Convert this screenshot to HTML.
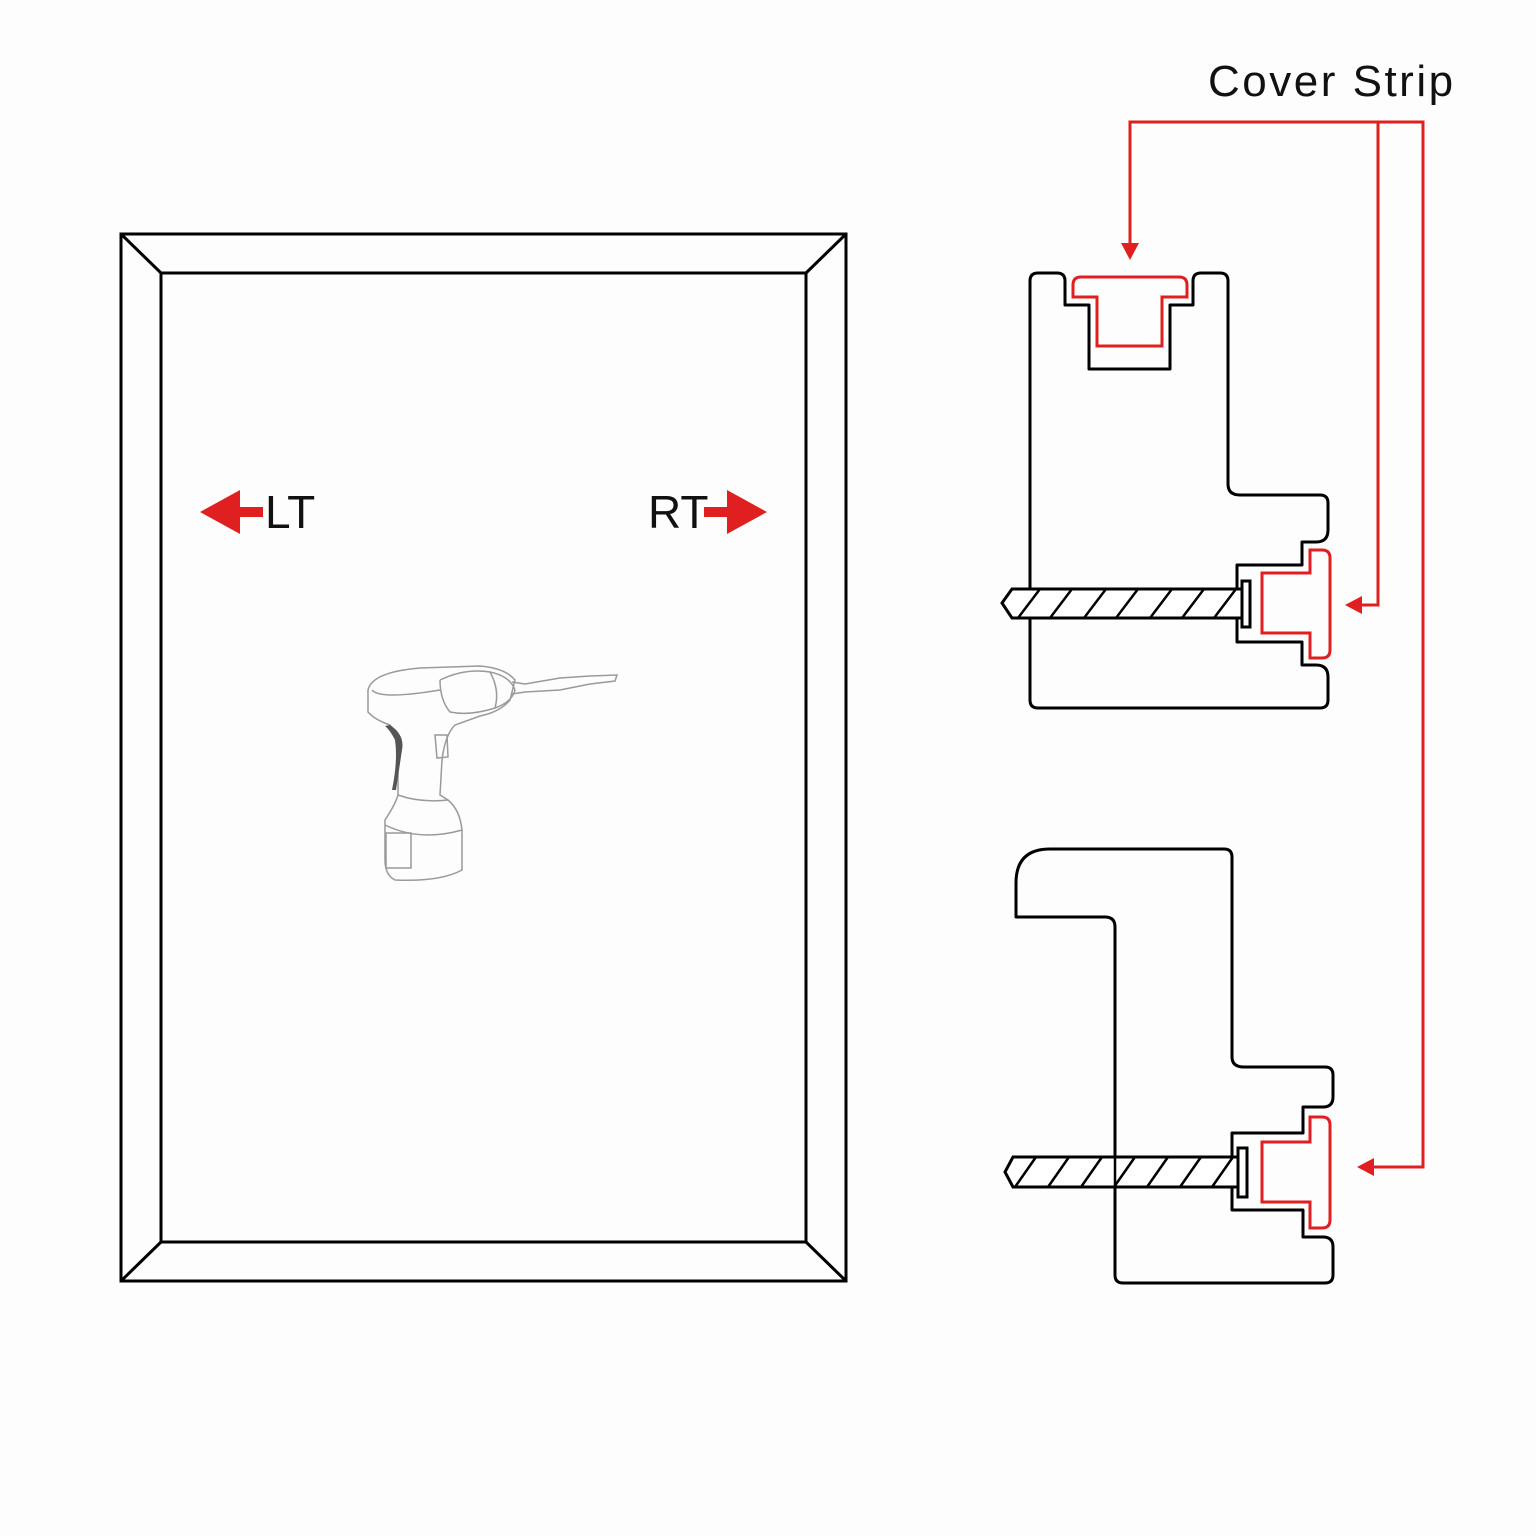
<!DOCTYPE html>
<html><head><meta charset="utf-8"><style>
html,body{margin:0;padding:0;background:#fdfdfd;}
svg{display:block;}
</style></head><body>
<svg width="1536" height="1536" viewBox="0 0 1536 1536" xmlns="http://www.w3.org/2000/svg">
<rect width="1536" height="1536" fill="#fdfdfd"/>
<!-- frame -->
<g fill="none" stroke="#000" stroke-width="3">
<rect x="121" y="234" width="725" height="1047"/>
<rect x="161" y="273" width="645" height="969"/>
<line x1="121" y1="234" x2="161" y2="273"/>
<line x1="846" y1="234" x2="806" y2="273"/>
<line x1="121" y1="1281" x2="161" y2="1242"/>
<line x1="846" y1="1281" x2="806" y2="1242"/>
</g>
<!-- LT RT arrows -->
<polygon points="200,512 240,490 240,507 263,507 263,517 240,517 240,534" fill="#e02020"/>
<text x="265" y="528" font-family="Liberation Sans, sans-serif" font-size="46" fill="#111">LT</text>
<polygon points="767,512 727,490 727,507 704,507 704,517 727,517 727,534" fill="#e02020"/>
<text x="648" y="528" font-family="Liberation Sans, sans-serif" font-size="46" fill="#111">RT</text>
<!-- drill -->
<g fill="none" stroke="#9a9a9a" stroke-width="1.5">
<path d="M368,690 Q372,672 420,668 L480,666 Q505,668 515,680 L510,700 Q500,712 480,716 L455,725 Q445,735 442,760 L440,795 L448,800 Q460,810 462,830 L462,870 Q440,882 395,880 Q385,875 385,860 L385,820 Q395,805 398,795 L398,760 Q400,740 390,725 Q375,720 368,712 Z"/>
<path d="M440,680 Q465,668 490,672 Q500,690 495,708 Q470,716 450,712 Q440,700 440,680"/>
<path d="M490,672 Q510,676 515,690 Q512,702 495,708"/>
<path d="M512,682 L525,684 L560,678 L590,676 L617,675 L615,681 L590,684 L560,690 L525,692 L512,694"/>
<path d="M435,735 L447,735 L448,757 L437,758 Z"/>
<path d="M398,795 Q420,803 448,800"/>
<path d="M385,825 Q420,842 462,830"/>
<rect x="386" y="833" width="25" height="35"/>
<path d="M372,690 Q380,700 440,690"/>
</g>
<path d="M390,725 Q405,735 402,750 L396,790 L392,790 Q398,760 395,740 Q390,730 385,726 Z" fill="#555"/>
<!-- top profile -->
<g fill="none" stroke="#000" stroke-width="3" stroke-linejoin="round">
<path d="M1038,273 L1057,273 Q1065,273 1065,281 L1065,305 L1089,305 L1089,369 L1170,369 L1170,305 L1193,305 L1193,281 Q1193,273 1201,273 L1220,273 Q1228,273 1228,281 L1228,484 Q1228,495 1240,495 L1320,495 Q1328,495 1328,503 L1328,530 Q1328,542 1316,542 L1302,542 L1302,565 L1237,565 L1237,642 L1302,642 L1302,665 L1316,665 Q1328,665 1328,677 L1328,700 Q1328,708 1320,708 L1038,708 Q1030,708 1030,700 L1030,281 Q1030,273 1038,273 Z"/>
</g>
<g fill="none" stroke="#e02020" stroke-width="3">
<path d="M1073,297 L1073,285 Q1073,277 1081,277 L1179,277 Q1187,277 1187,285 L1187,297 L1162,297 L1162,346 L1097,346 L1097,297 Z"/>
<path d="M1310,550 L1322,550 Q1330,550 1330,558 L1330,650 Q1330,658 1322,658 L1310,658 L1310,633 L1262,633 L1262,573 L1310,573 Z"/>
</g>
<!-- top screw -->
<g stroke="#000" stroke-width="3" fill="#fff">
<path d="M1012,589 L1242,589 L1242,618 L1012,618 L1002,603 Z"/>
<rect x="1242" y="581" width="8" height="46"/>
</g>
<g stroke="#000" stroke-width="2.5">
<line x1="1018" y1="618" x2="1040" y2="589"/><line x1="1050" y1="618" x2="1072" y2="589"/>
<line x1="1084" y1="618" x2="1106" y2="589"/><line x1="1116" y1="618" x2="1138" y2="589"/>
<line x1="1150" y1="618" x2="1172" y2="589"/><line x1="1182" y1="618" x2="1204" y2="589"/>
<line x1="1214" y1="618" x2="1236" y2="589"/>
</g>
<!-- bottom profile -->
<g fill="none" stroke="#000" stroke-width="3" stroke-linejoin="round">
<path d="M1050,849 L1224,849 Q1232,849 1232,857 L1232,1057 Q1232,1067 1244,1067 L1325,1067 Q1333,1067 1333,1075 L1333,1097 Q1333,1107 1323,1107 L1303,1107 L1303,1133 L1232,1133 L1232,1210 L1303,1210 L1303,1237 L1323,1237 Q1333,1237 1333,1247 L1333,1275 Q1333,1283 1325,1283 L1123,1283 Q1115,1283 1115,1275 L1115,927 Q1115,917 1105,917 L1016,917 L1016,883 Q1016,849 1050,849 Z"/>
</g>
<g fill="none" stroke="#e02020" stroke-width="3">
<path d="M1310,1117 L1322,1117 Q1330,1117 1330,1125 L1330,1220 Q1330,1228 1322,1228 L1310,1228 L1310,1202 L1262,1202 L1262,1142 L1310,1142 Z"/>
</g>
<g stroke="#000" stroke-width="3" fill="#fff">
<path d="M1013,1157 L1238,1157 L1238,1187 L1013,1187 L1005,1172 Z"/>
<rect x="1238" y="1148" width="9" height="49"/>
</g>
<g stroke="#000" stroke-width="2.5">
<line x1="1015" y1="1187" x2="1036" y2="1157"/><line x1="1048" y1="1187" x2="1069" y2="1157"/>
<line x1="1081" y1="1187" x2="1102" y2="1157"/><line x1="1114" y1="1187" x2="1135" y2="1157"/>
<line x1="1147" y1="1187" x2="1168" y2="1157"/><line x1="1180" y1="1187" x2="1201" y2="1157"/>
<line x1="1212" y1="1187" x2="1233" y2="1157"/>
<line x1="1115" y1="1157" x2="1115" y2="1187"/>
</g>
<!-- connectors -->
<g fill="none" stroke="#e02020" stroke-width="3">
<polyline points="1130,246 1130,122 1423,122 1423,1167 1370,1167"/>
<polyline points="1378,122 1378,605 1358,605"/>
</g>
<g fill="#e02020">
<polygon points="1130,260 1121,243 1139,243"/>
<polygon points="1345,605 1362,596 1362,614"/>
<polygon points="1357,1167 1374,1158 1374,1176"/>
</g>
<text x="1208" y="96" font-family="Liberation Sans, sans-serif" font-size="44" letter-spacing="2.5" fill="#111">Cover Strip</text>
</svg>
</body></html>
